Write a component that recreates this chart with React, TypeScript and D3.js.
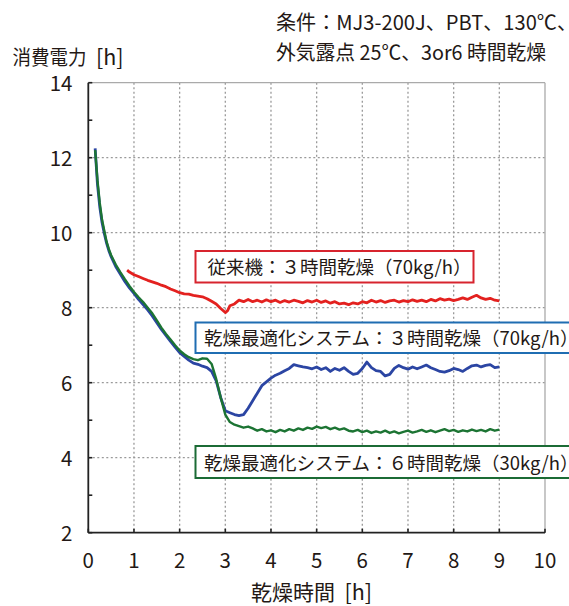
import React from "react";
import * as d3 from "d3";

const xTicks = [0, 1, 2, 3, 4, 5, 6, 7, 8, 9, 10];
const yTicks = [2, 4, 6, 8, 10, 12, 14];
const yMinorTicks = [3, 5, 7, 9, 11, 13];
const xGrid = [1, 2, 3, 4, 5, 6, 7, 8, 9];
const yGrid = [4, 6, 8, 10, 12];

const redTime = [0.85, 0.9, 1.0, 1.1, 1.2, 1.3, 1.4, 1.5, 1.6, 1.7, 1.8, 1.9, 2.0, 2.1, 2.2, 2.3, 2.4, 2.5, 2.6, 2.7, 2.8, 2.9, 3.0, 3.05, 3.1, 3.2, 3.3, 3.4, 3.5, 3.6, 3.7, 3.8, 3.9, 4.0, 4.1, 4.2, 4.3, 4.4, 4.5, 4.6, 4.7, 4.8, 4.9, 5.0, 5.1, 5.2, 5.3, 5.4, 5.5, 5.6, 5.7, 5.8, 5.9, 6.0, 6.1, 6.2, 6.3, 6.4, 6.5, 6.6, 6.7, 6.8, 6.9, 7.0, 7.1, 7.2, 7.3, 7.4, 7.5, 7.6, 7.7, 7.8, 7.9, 8.0, 8.1, 8.2, 8.3, 8.4, 8.5, 8.6, 8.7, 8.8, 8.9, 9.0];
const redValue = [9.0, 8.95, 8.88, 8.83, 8.78, 8.73, 8.69, 8.65, 8.6, 8.56, 8.5, 8.45, 8.4, 8.37, 8.36, 8.33, 8.31, 8.29, 8.24, 8.17, 8.1, 7.98, 7.87, 7.92, 8.05, 8.1, 8.2, 8.16, 8.22, 8.16, 8.2, 8.15, 8.21, 8.16, 8.2, 8.14, 8.19, 8.15, 8.2, 8.17, 8.13, 8.19, 8.15, 8.2, 8.14, 8.18, 8.12, 8.16, 8.1, 8.12, 8.08, 8.13, 8.1, 8.16, 8.13, 8.2, 8.15, 8.19, 8.14, 8.18, 8.2, 8.15, 8.19, 8.16, 8.21, 8.17, 8.2, 8.16, 8.22, 8.18, 8.24, 8.2, 8.23, 8.19, 8.22, 8.26, 8.22, 8.28, 8.33, 8.26, 8.22, 8.25, 8.2, 8.18];

const blueTime = [0.15, 0.2, 0.25, 0.3, 0.35, 0.4, 0.45, 0.5, 0.6, 0.7, 0.8, 0.9, 1.0, 1.1, 1.2, 1.3, 1.4, 1.5, 1.6, 1.7, 1.8, 1.9, 2.0, 2.1, 2.2, 2.3, 2.4, 2.5, 2.6, 2.7, 2.8, 2.9, 3.0, 3.1, 3.2, 3.3, 3.4, 3.5, 3.6, 3.7, 3.8, 3.9, 4.0, 4.1, 4.2, 4.3, 4.4, 4.5, 4.6, 4.7, 4.8, 4.9, 5.0, 5.1, 5.2, 5.3, 5.4, 5.5, 5.6, 5.7, 5.8, 5.9, 6.0, 6.1, 6.2, 6.3, 6.4, 6.5, 6.6, 6.7, 6.8, 6.9, 7.0, 7.1, 7.2, 7.3, 7.4, 7.5, 7.6, 7.7, 7.8, 7.9, 8.0, 8.1, 8.2, 8.3, 8.4, 8.5, 8.6, 8.7, 8.8, 8.9, 9.0];
const blueValue = [12.25, 11.3, 10.7, 10.28, 9.98, 9.72, 9.52, 9.36, 9.1, 8.9, 8.7, 8.53, 8.38, 8.22, 8.08, 7.94, 7.78, 7.6, 7.42, 7.26, 7.1, 6.95, 6.8, 6.7, 6.6, 6.52, 6.49, 6.44, 6.4, 6.3, 6.05, 5.6, 5.25, 5.2, 5.15, 5.12, 5.15, 5.32, 5.52, 5.72, 5.92, 6.02, 6.12, 6.2, 6.25, 6.32, 6.38, 6.48, 6.45, 6.42, 6.4, 6.37, 6.42, 6.35, 6.4, 6.3, 6.38, 6.33, 6.4, 6.3, 6.22, 6.25, 6.38, 6.55, 6.4, 6.32, 6.3, 6.18, 6.22, 6.38, 6.46, 6.4, 6.36, 6.42, 6.37, 6.42, 6.47, 6.4, 6.35, 6.3, 6.28, 6.32, 6.38, 6.35, 6.3, 6.38, 6.45, 6.47, 6.42, 6.46, 6.48, 6.4, 6.42];

const greenTime = [0.15, 0.2, 0.25, 0.3, 0.35, 0.4, 0.45, 0.5, 0.6, 0.7, 0.8, 0.9, 1.0, 1.1, 1.2, 1.3, 1.4, 1.5, 1.6, 1.7, 1.8, 1.9, 2.0, 2.1, 2.2, 2.3, 2.4, 2.5, 2.6, 2.7, 2.8, 2.9, 3.0, 3.1, 3.2, 3.3, 3.4, 3.5, 3.6, 3.7, 3.8, 3.9, 4.0, 4.1, 4.2, 4.3, 4.4, 4.5, 4.6, 4.7, 4.8, 4.9, 5.0, 5.1, 5.2, 5.3, 5.4, 5.5, 5.6, 5.7, 5.8, 5.9, 6.0, 6.1, 6.2, 6.3, 6.4, 6.5, 6.6, 6.7, 6.8, 6.9, 7.0, 7.1, 7.2, 7.3, 7.4, 7.5, 7.6, 7.7, 7.8, 7.9, 8.0, 8.1, 8.2, 8.3, 8.4, 8.5, 8.6, 8.7, 8.8, 8.9, 9.0];
const greenValue = [12.2, 11.4, 10.8, 10.35, 10.05, 9.76, 9.56, 9.4, 9.15, 8.95, 8.76, 8.58, 8.42, 8.28, 8.15, 8.0, 7.85, 7.66, 7.47, 7.3, 7.15, 7.0, 6.86, 6.76, 6.68, 6.63, 6.6, 6.65, 6.64, 6.5, 6.1, 5.6, 5.15, 4.95, 4.88, 4.84, 4.8, 4.83, 4.78, 4.72, 4.76, 4.7, 4.73, 4.68, 4.74, 4.7, 4.76, 4.72, 4.78, 4.74, 4.8, 4.77, 4.83, 4.79, 4.82, 4.76, 4.8, 4.75, 4.78, 4.72, 4.7, 4.74, 4.68, 4.72, 4.66, 4.7, 4.67, 4.72, 4.66, 4.7, 4.65, 4.69, 4.72, 4.67, 4.7, 4.74, 4.69, 4.73, 4.68, 4.72, 4.76, 4.71, 4.74, 4.69, 4.73, 4.7, 4.75, 4.71, 4.74, 4.7, 4.76, 4.72, 4.75];

const FONT = "'Noto Sans CJK JP', 'Noto Sans', sans-serif";
const INK = "#231815";

export default function App() {
  const W = 569, H = 606;
  const x = d3.scaleLinear().domain([0, 10]).range([88.3, 545]);
  const y = d3.scaleLinear().domain([2, 14]).range([532.7, 82.7]);
  const mk = (t: number[], v: number[]) =>
    d3.line<number>().x((_, i) => x(t[i])).y((d) => y(d))(v) || "";

  const x0 = x(0), x1 = x(10), yTop = y(14), yBot = y(2);

  return (
    <svg width={W} height={H} style={{ position: "absolute", left: 0, top: 0, fontFamily: FONT }}>
      <rect width={W} height={H} fill="#fff" />
      {/* grid */}
      {xGrid.map((g) => (
        <line key={"xg" + g} x1={x(g)} x2={x(g)} y1={yTop} y2={yBot} stroke="#9a9a9a" strokeWidth={1.3} strokeDasharray="2,2.5" />
      ))}
      {yGrid.map((g) => (
        <line key={"yg" + g} x1={x0} x2={x1} y1={y(g)} y2={y(g)} stroke="#9a9a9a" strokeWidth={1.3} strokeDasharray="2,2.5" />
      ))}
      {/* frame */}
      <line x1={x0} x2={x1} y1={yTop} y2={yTop} stroke="#aaa" strokeWidth={1.3} />
      <line x1={x1} x2={x1} y1={yTop} y2={yBot} stroke="#aaa" strokeWidth={1.3} />
      <line x1={x0} x2={x0} y1={yTop} y2={yBot} stroke="#222" strokeWidth={1.8} />
      <line x1={x0} x2={x1} y1={yBot} y2={yBot} stroke="#222" strokeWidth={1.8} />
      {yTicks.concat(yMinorTicks).map((t) => (
        <line key={"yt" + t} x1={x0} x2={x0 + 4} y1={y(t)} y2={y(t)} stroke="#222" strokeWidth={1.6} />
      ))}
      {xTicks.map((t) => (
        <line key={"xt" + t} x1={x(t)} x2={x(t)} y1={yBot} y2={yBot - 4} stroke="#222" strokeWidth={1.6} />
      ))}
      {/* tick labels */}
      {yTicks.map((t) => (
        <text key={"yl" + t} x={72.5} y={y(t) + 8.5} textAnchor="end" fontSize={20.5} fill={INK}>{t}</text>
      ))}
      {xTicks.map((t) => (
        <text key={"xl" + t} x={x(t)} y={568} textAnchor="middle" fontSize={20.5} fill={INK}>{t}</text>
      ))}
      {/* series */}
      <path d={mk(redTime, redValue)} fill="none" stroke="#e3211f" strokeWidth={2.8} strokeLinejoin="round" />
      <path d={mk(blueTime, blueValue)} fill="none" stroke="#2b45a3" strokeWidth={2.8} strokeLinejoin="round" />
      <path d={mk(greenTime, greenValue)} fill="none" stroke="#1c7433" strokeWidth={2.4} strokeLinejoin="round" />
      {/* legend boxes */}
      <rect x={195.5} y={251} width={278} height={31.5} fill="#fff" stroke="#d7242e" strokeWidth={2} />
      <text x={207.5} y={274} fontSize={18.5} fill={INK}>従来機：３時間乾燥（70kg/h）</text>
      <rect x={195.5} y={322.5} width={390} height={30.5} fill="#fff" stroke="#1f6db2" strokeWidth={2} />
      <text x={204} y={345} fontSize={18.5} fill={INK}>乾燥最適化システム：３時間乾燥（70kg/h）</text>
      <rect x={195.5} y={446} width={390} height={32} fill="#fff" stroke="#1b6b35" strokeWidth={2} />
      <text x={204} y={469.5} fontSize={18.5} fill={INK}>乾燥最適化システム：６時間乾燥（30kg/h）</text>
      {/* titles */}
      <text x={12.5} y={65} fontSize={20} textLength={74} lengthAdjust="spacingAndGlyphs" fill={INK}>消費電力</text>
      <text x={96} y={65} fontSize={21.5} fill={INK}>[h]</text>
      <text x={276} y={30} fontSize={20.5} textLength={301} lengthAdjust="spacingAndGlyphs" fill={INK}>条件：MJ3-200J、PBT、130℃、</text>
      <text x={276} y={60} fontSize={20} textLength={270} lengthAdjust="spacingAndGlyphs" fill={INK}>外気露点 25℃、3or6 時間乾燥</text>
      <text x={251} y={599.5} fontSize={21} fill={INK}>乾燥時間</text>
      <text x={344.5} y={599.5} fontSize={21.5} fill={INK}>[h]</text>
    </svg>
  );
}
